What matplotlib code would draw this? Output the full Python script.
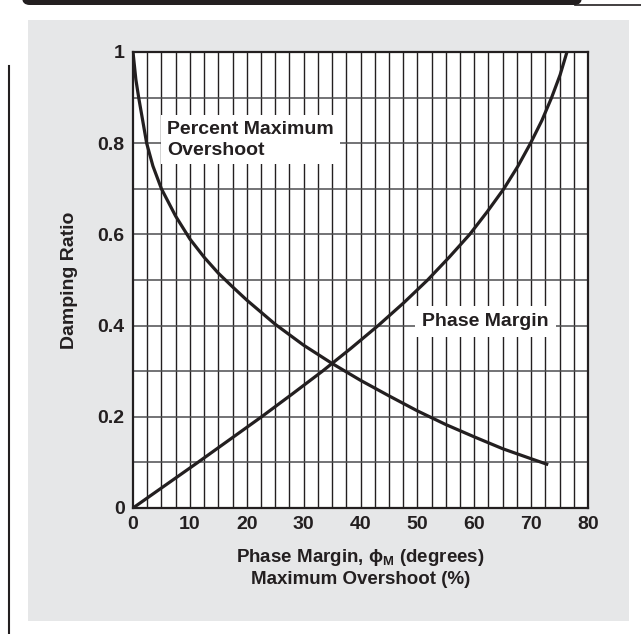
"""
Damping ratio vs phase margin and percent maximum overshoot.
"""

import matplotlib
matplotlib.use("Agg")
import matplotlib.pyplot as plt
from matplotlib.patches import Rectangle, FancyBboxPatch
from matplotlib.lines import Line2D

plt.rcParams["font.family"] = ["Liberation Sans", "DejaVu Sans"]
plt.rcParams["mathtext.fontset"] = "custom"
plt.rcParams["mathtext.bf"] = "Liberation Sans:bold"
plt.rcParams["mathtext.rm"] = "Liberation Sans"

INK = "#231f20"

# Phase margin curve (degrees -> damping ratio)
pm_deg = [0, 5.7, 11.4, 17.0, 22.6, 28.0, 33.3, 38.3, 43.1, 47.6, 51.8,
          55.6, 59.2, 62.3, 65.2, 67.7, 69.9, 71.9, 73.6, 75.1, 76.3]
pm_zeta = [0, 0.05, 0.10, 0.15, 0.20, 0.25, 0.30, 0.35, 0.40, 0.45, 0.50,
           0.55, 0.60, 0.65, 0.70, 0.75, 0.80, 0.85, 0.90, 0.95, 1.0]

# Percent maximum overshoot curve (% -> damping ratio)
os_pct = [0, 0.5, 1.0, 1.7, 2.4, 3.5, 5.0, 7.5, 10, 12.5, 15, 17.5, 20, 25,
          30, 35, 40, 45, 50, 55, 60, 65, 70, 73]
os_zeta = [1.0, 0.94, 0.90, 0.85, 0.80, 0.75, 0.70, 0.64, 0.59, 0.55, 0.515,
           0.485, 0.456, 0.403, 0.357, 0.317, 0.28, 0.246, 0.213, 0.183,
           0.156, 0.13, 0.108, 0.095]

x_ticks = [0, 10, 20, 30, 40, 50, 60, 70, 80]
y_ticks = [0, 0.2, 0.4, 0.6, 0.8, 1]
y_tick_labels = ["0", "0.2", "0.4", "0.6", "0.8", "1"]

fig = plt.figure(figsize=(6.41, 6.34), dpi=100)
W, H = 641, 634

# page decorations: gray panel, top bar, left rule
fig.patches.append(Rectangle((28 / W, 1 - 621 / H), 601 / W, 601 / H,
                             transform=fig.transFigure, facecolor="#e6e7e8",
                             edgecolor="none", zorder=0))
fig.patches.append(FancyBboxPatch((22 / W, 1 - 5 / H), 560 / W, 12 / H,
                                  boxstyle="round,pad=0,rounding_size=0.012",
                                  transform=fig.transFigure, facecolor=INK,
                                  edgecolor="none", zorder=1))
fig.lines.append(Line2D([575 / W, 1], [1 - 4.5 / H, 1 - 4.5 / H],
                        transform=fig.transFigure, color=INK, lw=1.2))
fig.lines.append(Line2D([8.5 / W, 8.5 / W], [0, 1 - 66 / H],
                        transform=fig.transFigure, color=INK, lw=1.5))

ax = fig.add_axes([133 / W, 1 - 508 / H, 455 / W, 456 / H])
ax.set_zorder(3)
ax.set_facecolor("white")
ax.set_xlim(0, 80)
ax.set_ylim(0, 1)

# grid: verticals every 2.5, horizontals every 0.1
for gx in [i * 2.5 for i in range(1, 32)]:
    ax.axvline(gx, color=INK, lw=1.0, zorder=1)
for gy in [i * 0.1 for i in range(1, 10)]:
    ax.axhline(gy, color="#4d4d4f", lw=1.1, zorder=1)

ax.plot(pm_deg, pm_zeta, color=INK, lw=2.3, zorder=4, solid_capstyle="butt")
ax.plot(os_pct, os_zeta, color=INK, lw=2.3, zorder=4, solid_capstyle="butt")

ax.text(6.0, 0.808, "Percent Maximum\nOvershoot", fontsize=14, fontweight="bold",
        color=INK, va="center", ha="left", linespacing=1.3, zorder=3,
        bbox=dict(facecolor="white", edgecolor="none", pad=4))
ax.text(50.8, 0.41, "Phase Margin", fontsize=14, fontweight="bold",
        color=INK, va="center", ha="left", zorder=3,
        bbox=dict(facecolor="white", edgecolor="none", pad=5))

ax.set_xticks(x_ticks)
ax.set_yticks(y_ticks)
ax.set_yticklabels(y_tick_labels)
ax.tick_params(length=0, labelsize=14, colors=INK, pad=6)
for lab in ax.get_xticklabels() + ax.get_yticklabels():
    lab.set_fontweight("bold")
for s in ax.spines.values():
    s.set_linewidth(1.6)
    s.set_color(INK)
    s.set_zorder(5)

ax.set_ylabel("Damping Ratio", fontsize=14, fontweight="bold", color=INK,
              labelpad=14)
ax.set_xlabel("Phase Margin, \u03d5$_\\mathbf{M}$ (degrees)\nMaximum Overshoot (%)",
              fontsize=13.5, fontweight="bold", color=INK, labelpad=10,
              linespacing=1.25)

fig.savefig("out.png", dpi=100, facecolor="white")
